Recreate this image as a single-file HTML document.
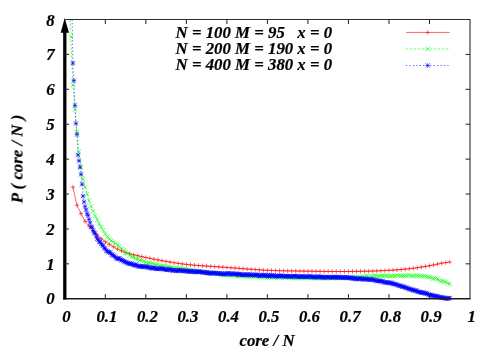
<!DOCTYPE html>
<html><head><meta charset="utf-8"><title>P(core/N)</title>
<style>html,body{margin:0;padding:0;background:#fff}svg{display:block}</style>
</head><body>
<svg width="498" height="349" viewBox="0 0 498 349">
<rect width="498" height="349" fill="#fff"/>
<g fill="none" stroke-linecap="butt">
<path d="M72.9 187.05 L76.96 205.2 L81.01 213.58 L85.06 221.26 L89.11 226.41 L93.16 230.95 L97.22 235.13 L101.27 238.71 L105.32 241.73 L109.37 244.37 L113.42 246.77 L117.48 249.01 L121.53 250.95 L125.58 252.52 L129.63 253.76 L133.68 254.8 L137.74 255.73 L141.79 256.62 L145.84 257.49 L149.89 258.35 L153.94 259.16 L158 259.94 L162.05 260.68 L166.1 261.39 L170.15 262.08 L174.2 262.74 L178.26 263.36 L182.31 263.92 L186.36 264.4 L190.41 264.82 L194.46 265.18 L198.52 265.51 L202.57 265.81 L206.62 266.09 L210.67 266.36 L214.72 266.63 L218.78 266.9 L222.83 267.18 L226.88 267.47 L230.93 267.76 L234.98 268.07 L239.04 268.37 L243.09 268.67 L247.14 268.97 L251.19 269.26 L255.24 269.54 L259.3 269.81 L263.35 270.1 L267.4 270.34 L271.45 270.48 L275.5 270.59 L279.56 270.7 L283.61 270.79 L287.66 270.87 L291.71 270.94 L295.76 271 L299.82 271.06 L303.87 271.12 L307.92 271.17 L311.97 271.23 L316.02 271.3 L320.08 271.36 L324.13 271.41 L328.18 271.46 L332.23 271.49 L336.28 271.52 L340.34 271.52 L344.39 271.51 L348.44 271.48 L352.49 271.44 L356.54 271.39 L360.6 271.33 L364.65 271.26 L368.7 271.19 L372.75 271.07 L376.8 270.92 L380.86 270.75 L384.91 270.56 L388.96 270.35 L393.01 270.13 L397.06 269.85 L401.12 269.52 L405.17 269.15 L409.22 268.72 L413.27 268.23 L417.32 267.69 L421.38 267.1 L425.43 266.43 L429.48 265.71 L433.53 264.93 L437.58 264.05 L441.64 263.21 L445.69 262.57 L449.74 262.1" stroke="#f00" stroke-width="0.6"/>
<path d="M70.7 187.05h4.4M72.9 184.85v4.4M74.76 205.2h4.4M76.96 203v4.4M78.81 213.58h4.4M81.01 211.38v4.4M82.86 221.26h4.4M85.06 219.06v4.4M86.91 226.41h4.4M89.11 224.21v4.4M90.96 230.95h4.4M93.16 228.75v4.4M95.02 235.13h4.4M97.22 232.93v4.4M99.07 238.71h4.4M101.27 236.51v4.4M103.12 241.73h4.4M105.32 239.53v4.4M107.17 244.37h4.4M109.37 242.17v4.4M111.22 246.77h4.4M113.42 244.57v4.4M115.28 249.01h4.4M117.48 246.81v4.4M119.33 250.95h4.4M121.53 248.75v4.4M123.38 252.52h4.4M125.58 250.32v4.4M127.43 253.76h4.4M129.63 251.56v4.4M131.48 254.8h4.4M133.68 252.6v4.4M135.54 255.73h4.4M137.74 253.53v4.4M139.59 256.62h4.4M141.79 254.42v4.4M143.64 257.49h4.4M145.84 255.29v4.4M147.69 258.35h4.4M149.89 256.15v4.4M151.74 259.16h4.4M153.94 256.96v4.4M155.8 259.94h4.4M158 257.74v4.4M159.85 260.68h4.4M162.05 258.48v4.4M163.9 261.39h4.4M166.1 259.19v4.4M167.95 262.08h4.4M170.15 259.88v4.4M172 262.74h4.4M174.2 260.54v4.4M176.06 263.36h4.4M178.26 261.16v4.4M180.11 263.92h4.4M182.31 261.72v4.4M184.16 264.4h4.4M186.36 262.2v4.4M188.21 264.82h4.4M190.41 262.62v4.4M192.26 265.18h4.4M194.46 262.98v4.4M196.32 265.51h4.4M198.52 263.31v4.4M200.37 265.81h4.4M202.57 263.61v4.4M204.42 266.09h4.4M206.62 263.89v4.4M208.47 266.36h4.4M210.67 264.16v4.4M212.52 266.63h4.4M214.72 264.43v4.4M216.58 266.9h4.4M218.78 264.7v4.4M220.63 267.18h4.4M222.83 264.98v4.4M224.68 267.47h4.4M226.88 265.27v4.4M228.73 267.76h4.4M230.93 265.56v4.4M232.78 268.07h4.4M234.98 265.87v4.4M236.84 268.37h4.4M239.04 266.17v4.4M240.89 268.67h4.4M243.09 266.47v4.4M244.94 268.97h4.4M247.14 266.77v4.4M248.99 269.26h4.4M251.19 267.06v4.4M253.04 269.54h4.4M255.24 267.34v4.4M257.1 269.81h4.4M259.3 267.61v4.4M261.15 270.1h4.4M263.35 267.9v4.4M265.2 270.34h4.4M267.4 268.14v4.4M269.25 270.48h4.4M271.45 268.28v4.4M273.3 270.59h4.4M275.5 268.39v4.4M277.36 270.7h4.4M279.56 268.5v4.4M281.41 270.79h4.4M283.61 268.59v4.4M285.46 270.87h4.4M287.66 268.67v4.4M289.51 270.94h4.4M291.71 268.74v4.4M293.56 271h4.4M295.76 268.8v4.4M297.62 271.06h4.4M299.82 268.86v4.4M301.67 271.12h4.4M303.87 268.92v4.4M305.72 271.17h4.4M307.92 268.97v4.4M309.77 271.23h4.4M311.97 269.03v4.4M313.82 271.3h4.4M316.02 269.1v4.4M317.88 271.36h4.4M320.08 269.16v4.4M321.93 271.41h4.4M324.13 269.21v4.4M325.98 271.46h4.4M328.18 269.26v4.4M330.03 271.49h4.4M332.23 269.29v4.4M334.08 271.52h4.4M336.28 269.32v4.4M338.14 271.52h4.4M340.34 269.32v4.4M342.19 271.51h4.4M344.39 269.31v4.4M346.24 271.48h4.4M348.44 269.28v4.4M350.29 271.44h4.4M352.49 269.24v4.4M354.34 271.39h4.4M356.54 269.19v4.4M358.4 271.33h4.4M360.6 269.13v4.4M362.45 271.26h4.4M364.65 269.06v4.4M366.5 271.19h4.4M368.7 268.99v4.4M370.55 271.07h4.4M372.75 268.87v4.4M374.6 270.92h4.4M376.8 268.72v4.4M378.66 270.75h4.4M380.86 268.55v4.4M382.71 270.56h4.4M384.91 268.36v4.4M386.76 270.35h4.4M388.96 268.15v4.4M390.81 270.13h4.4M393.01 267.93v4.4M394.86 269.85h4.4M397.06 267.65v4.4M398.92 269.52h4.4M401.12 267.32v4.4M402.97 269.15h4.4M405.17 266.95v4.4M407.02 268.72h4.4M409.22 266.52v4.4M411.07 268.23h4.4M413.27 266.03v4.4M415.12 267.69h4.4M417.32 265.49v4.4M419.18 267.1h4.4M421.38 264.9v4.4M423.23 266.43h4.4M425.43 264.23v4.4M427.28 265.71h4.4M429.48 263.51v4.4M431.33 264.93h4.4M433.53 262.73v4.4M435.38 264.05h4.4M437.58 261.85v4.4M439.44 263.21h4.4M441.64 261.01v4.4M443.49 262.57h4.4M445.69 260.37v4.4M447.54 262.1h4.4M449.74 259.9v4.4" stroke="#f00" stroke-width="0.6"/>
<path d="M70.3 19.5 L70.88 36.94 L72.9 85.18 L74.93 109.23 L76.96 132.07 L78.98 151.69 L81.01 167.32 L83.03 179.11 L85.06 187.17 L87.09 193.85 L89.11 200.78 L91.14 206.35 L93.16 211.32 L95.19 215.95 L97.22 219.78 L99.24 223.59 L101.27 227.01 L103.29 230.37 L105.32 234.06 L107.35 236.62 L109.37 239.34 L111.4 240.52 L113.42 242.19 L115.45 243.52 L117.48 244.88 L119.5 246.74 L121.53 248.79 L123.55 250.24 L125.58 252.48 L127.61 253.59 L129.63 255.17 L131.66 256.88 L133.68 257.13 L135.71 258.64 L137.74 259.09 L139.76 260.16 L141.79 260.48 L143.81 261.04 L145.84 262.25 L147.87 263.01 L149.89 263.14 L151.92 263.34 L153.94 264.11 L155.97 264.55 L158 264.58 L160.02 265.84 L162.05 265.64 L164.07 266.23 L166.1 266.16 L168.13 266.83 L170.15 267.29 L172.18 267.4 L174.2 268.02 L176.23 267.91 L178.26 268.38 L180.28 268.58 L182.31 268.96 L184.33 268.8 L186.36 269.38 L188.39 269.51 L190.41 269.85 L192.44 270.57 L194.46 270.58 L196.49 271.05 L198.52 271.45 L200.54 272.01 L202.57 272.34 L204.59 272.28 L206.62 272.14 L208.65 273.22 L210.67 273.06 L212.7 273.55 L214.72 273.46 L216.75 273.79 L218.78 273.86 L220.8 275.17 L222.83 274.78 L224.85 275.1 L226.88 275.05 L228.91 275.4 L230.93 275.53 L232.96 275.31 L234.98 275.12 L237.01 276.57 L239.04 276 L241.06 275.95 L243.09 276.16 L245.11 276.37 L247.14 276.76 L249.17 276.75 L251.19 276.38 L253.22 276.38 L255.24 276.74 L257.27 277.09 L259.3 276.91 L261.32 277.08 L263.35 276.93 L265.37 277.13 L267.4 277.4 L269.43 277.24 L271.45 277.69 L273.48 277.19 L275.5 277.14 L277.53 277.86 L279.56 277.46 L281.58 277.91 L283.61 277.38 L285.63 277.47 L287.66 277.83 L289.69 277.53 L291.71 277.98 L293.74 278.08 L295.76 278.1 L297.79 278.02 L299.82 278.11 L301.84 278 L303.87 278.24 L305.89 277.87 L307.92 277.8 L309.95 278.22 L311.97 278.48 L314 277.87 L316.02 277.75 L318.05 278.1 L320.08 278.4 L322.1 277.95 L324.13 277.59 L326.15 278.52 L328.18 277.85 L330.21 278.04 L332.23 278.15 L334.26 277.71 L336.28 278.15 L338.31 277.63 L340.34 277.26 L342.36 277.49 L344.39 277.7 L346.41 277.86 L348.44 277.64 L350.47 277.71 L352.49 276.64 L354.52 277.05 L356.54 277.15 L358.57 277.11 L360.6 276.94 L362.62 276.63 L364.65 276.81 L366.67 275.92 L368.7 276.53 L370.73 276.48 L372.75 276.12 L374.78 275.75 L376.8 275.74 L378.83 276.2 L380.86 275.95 L382.88 275.94 L384.91 275.79 L386.93 275.83 L388.96 276.13 L390.99 276.18 L393.01 275.75 L395.04 276.09 L397.06 275.34 L399.09 275.68 L401.12 275.94 L403.14 275.71 L405.17 275.73 L407.19 275.6 L409.22 275.29 L411.25 275.94 L413.27 276.06 L415.3 275.5 L417.32 275.75 L419.35 275.82 L421.38 275.95 L423.4 276.35 L425.43 276.31 L427.45 277.07 L429.48 277.18 L431.51 277.9 L433.53 278.5 L435.56 278.56 L437.58 279.16 L439.61 280.53 L441.64 281.04 L443.66 281.41 L445.69 281.97 L447.71 283.26 L449.74 283.97" stroke="#0f0" stroke-width="1.1" stroke-opacity="0.55" stroke-dasharray="2.6 1.4"/>
<path d="M68.68 34.74l4.4 4.4M68.68 39.14l4.4 -4.4M70.7 82.98l4.4 4.4M70.7 87.38l4.4 -4.4M72.73 107.03l4.4 4.4M72.73 111.43l4.4 -4.4M74.76 129.87l4.4 4.4M74.76 134.27l4.4 -4.4M76.78 149.49l4.4 4.4M76.78 153.89l4.4 -4.4M78.81 165.12l4.4 4.4M78.81 169.52l4.4 -4.4M80.83 176.91l4.4 4.4M80.83 181.31l4.4 -4.4M82.86 184.97l4.4 4.4M82.86 189.37l4.4 -4.4M84.89 191.65l4.4 4.4M84.89 196.05l4.4 -4.4M86.91 198.58l4.4 4.4M86.91 202.98l4.4 -4.4M88.94 204.15l4.4 4.4M88.94 208.55l4.4 -4.4M90.96 209.12l4.4 4.4M90.96 213.52l4.4 -4.4M92.99 213.75l4.4 4.4M92.99 218.15l4.4 -4.4M95.02 217.58l4.4 4.4M95.02 221.98l4.4 -4.4M97.04 221.39l4.4 4.4M97.04 225.79l4.4 -4.4M99.07 224.81l4.4 4.4M99.07 229.21l4.4 -4.4M101.09 228.17l4.4 4.4M101.09 232.57l4.4 -4.4M103.12 231.86l4.4 4.4M103.12 236.26l4.4 -4.4M105.15 234.42l4.4 4.4M105.15 238.82l4.4 -4.4M107.17 237.14l4.4 4.4M107.17 241.54l4.4 -4.4M109.2 238.32l4.4 4.4M109.2 242.72l4.4 -4.4M111.22 239.99l4.4 4.4M111.22 244.39l4.4 -4.4M113.25 241.32l4.4 4.4M113.25 245.72l4.4 -4.4M115.28 242.68l4.4 4.4M115.28 247.08l4.4 -4.4M117.3 244.54l4.4 4.4M117.3 248.94l4.4 -4.4M119.33 246.59l4.4 4.4M119.33 250.99l4.4 -4.4M121.35 248.04l4.4 4.4M121.35 252.44l4.4 -4.4M123.38 250.28l4.4 4.4M123.38 254.68l4.4 -4.4M125.41 251.39l4.4 4.4M125.41 255.79l4.4 -4.4M127.43 252.97l4.4 4.4M127.43 257.37l4.4 -4.4M129.46 254.68l4.4 4.4M129.46 259.08l4.4 -4.4M131.48 254.93l4.4 4.4M131.48 259.33l4.4 -4.4M133.51 256.44l4.4 4.4M133.51 260.84l4.4 -4.4M135.54 256.89l4.4 4.4M135.54 261.29l4.4 -4.4M137.56 257.96l4.4 4.4M137.56 262.36l4.4 -4.4M139.59 258.28l4.4 4.4M139.59 262.68l4.4 -4.4M141.61 258.84l4.4 4.4M141.61 263.24l4.4 -4.4M143.64 260.05l4.4 4.4M143.64 264.45l4.4 -4.4M145.67 260.81l4.4 4.4M145.67 265.21l4.4 -4.4M147.69 260.94l4.4 4.4M147.69 265.34l4.4 -4.4M149.72 261.14l4.4 4.4M149.72 265.54l4.4 -4.4M151.74 261.91l4.4 4.4M151.74 266.31l4.4 -4.4M153.77 262.35l4.4 4.4M153.77 266.75l4.4 -4.4M155.8 262.38l4.4 4.4M155.8 266.78l4.4 -4.4M157.82 263.64l4.4 4.4M157.82 268.04l4.4 -4.4M159.85 263.44l4.4 4.4M159.85 267.84l4.4 -4.4M161.87 264.03l4.4 4.4M161.87 268.43l4.4 -4.4M163.9 263.96l4.4 4.4M163.9 268.36l4.4 -4.4M165.93 264.63l4.4 4.4M165.93 269.03l4.4 -4.4M167.95 265.09l4.4 4.4M167.95 269.49l4.4 -4.4M169.98 265.2l4.4 4.4M169.98 269.6l4.4 -4.4M172 265.82l4.4 4.4M172 270.22l4.4 -4.4M174.03 265.71l4.4 4.4M174.03 270.11l4.4 -4.4M176.06 266.18l4.4 4.4M176.06 270.58l4.4 -4.4M178.08 266.38l4.4 4.4M178.08 270.78l4.4 -4.4M180.11 266.76l4.4 4.4M180.11 271.16l4.4 -4.4M182.13 266.6l4.4 4.4M182.13 271l4.4 -4.4M184.16 267.18l4.4 4.4M184.16 271.58l4.4 -4.4M186.19 267.31l4.4 4.4M186.19 271.71l4.4 -4.4M188.21 267.65l4.4 4.4M188.21 272.05l4.4 -4.4M190.24 268.37l4.4 4.4M190.24 272.77l4.4 -4.4M192.26 268.38l4.4 4.4M192.26 272.78l4.4 -4.4M194.29 268.85l4.4 4.4M194.29 273.25l4.4 -4.4M196.32 269.25l4.4 4.4M196.32 273.65l4.4 -4.4M198.34 269.81l4.4 4.4M198.34 274.21l4.4 -4.4M200.37 270.14l4.4 4.4M200.37 274.54l4.4 -4.4M202.39 270.08l4.4 4.4M202.39 274.48l4.4 -4.4M204.42 269.94l4.4 4.4M204.42 274.34l4.4 -4.4M206.45 271.02l4.4 4.4M206.45 275.42l4.4 -4.4M208.47 270.86l4.4 4.4M208.47 275.26l4.4 -4.4M210.5 271.35l4.4 4.4M210.5 275.75l4.4 -4.4M212.52 271.26l4.4 4.4M212.52 275.66l4.4 -4.4M214.55 271.59l4.4 4.4M214.55 275.99l4.4 -4.4M216.58 271.66l4.4 4.4M216.58 276.06l4.4 -4.4M218.6 272.97l4.4 4.4M218.6 277.37l4.4 -4.4M220.63 272.58l4.4 4.4M220.63 276.98l4.4 -4.4M222.65 272.9l4.4 4.4M222.65 277.3l4.4 -4.4M224.68 272.85l4.4 4.4M224.68 277.25l4.4 -4.4M226.71 273.2l4.4 4.4M226.71 277.6l4.4 -4.4M228.73 273.33l4.4 4.4M228.73 277.73l4.4 -4.4M230.76 273.11l4.4 4.4M230.76 277.51l4.4 -4.4M232.78 272.92l4.4 4.4M232.78 277.32l4.4 -4.4M234.81 274.37l4.4 4.4M234.81 278.77l4.4 -4.4M236.84 273.8l4.4 4.4M236.84 278.2l4.4 -4.4M238.86 273.75l4.4 4.4M238.86 278.15l4.4 -4.4M240.89 273.96l4.4 4.4M240.89 278.36l4.4 -4.4M242.91 274.17l4.4 4.4M242.91 278.57l4.4 -4.4M244.94 274.56l4.4 4.4M244.94 278.96l4.4 -4.4M246.97 274.55l4.4 4.4M246.97 278.95l4.4 -4.4M248.99 274.18l4.4 4.4M248.99 278.58l4.4 -4.4M251.02 274.18l4.4 4.4M251.02 278.58l4.4 -4.4M253.04 274.54l4.4 4.4M253.04 278.94l4.4 -4.4M255.07 274.89l4.4 4.4M255.07 279.29l4.4 -4.4M257.1 274.71l4.4 4.4M257.1 279.11l4.4 -4.4M259.12 274.88l4.4 4.4M259.12 279.28l4.4 -4.4M261.15 274.73l4.4 4.4M261.15 279.13l4.4 -4.4M263.17 274.93l4.4 4.4M263.17 279.33l4.4 -4.4M265.2 275.2l4.4 4.4M265.2 279.6l4.4 -4.4M267.23 275.04l4.4 4.4M267.23 279.44l4.4 -4.4M269.25 275.49l4.4 4.4M269.25 279.89l4.4 -4.4M271.28 274.99l4.4 4.4M271.28 279.39l4.4 -4.4M273.3 274.94l4.4 4.4M273.3 279.34l4.4 -4.4M275.33 275.66l4.4 4.4M275.33 280.06l4.4 -4.4M277.36 275.26l4.4 4.4M277.36 279.66l4.4 -4.4M279.38 275.71l4.4 4.4M279.38 280.11l4.4 -4.4M281.41 275.18l4.4 4.4M281.41 279.58l4.4 -4.4M283.43 275.27l4.4 4.4M283.43 279.67l4.4 -4.4M285.46 275.63l4.4 4.4M285.46 280.03l4.4 -4.4M287.49 275.33l4.4 4.4M287.49 279.73l4.4 -4.4M289.51 275.78l4.4 4.4M289.51 280.18l4.4 -4.4M291.54 275.88l4.4 4.4M291.54 280.28l4.4 -4.4M293.56 275.9l4.4 4.4M293.56 280.3l4.4 -4.4M295.59 275.82l4.4 4.4M295.59 280.22l4.4 -4.4M297.62 275.91l4.4 4.4M297.62 280.31l4.4 -4.4M299.64 275.8l4.4 4.4M299.64 280.2l4.4 -4.4M301.67 276.04l4.4 4.4M301.67 280.44l4.4 -4.4M303.69 275.67l4.4 4.4M303.69 280.07l4.4 -4.4M305.72 275.6l4.4 4.4M305.72 280l4.4 -4.4M307.75 276.02l4.4 4.4M307.75 280.42l4.4 -4.4M309.77 276.28l4.4 4.4M309.77 280.68l4.4 -4.4M311.8 275.67l4.4 4.4M311.8 280.07l4.4 -4.4M313.82 275.55l4.4 4.4M313.82 279.95l4.4 -4.4M315.85 275.9l4.4 4.4M315.85 280.3l4.4 -4.4M317.88 276.2l4.4 4.4M317.88 280.6l4.4 -4.4M319.9 275.75l4.4 4.4M319.9 280.15l4.4 -4.4M321.93 275.39l4.4 4.4M321.93 279.79l4.4 -4.4M323.95 276.32l4.4 4.4M323.95 280.72l4.4 -4.4M325.98 275.65l4.4 4.4M325.98 280.05l4.4 -4.4M328.01 275.84l4.4 4.4M328.01 280.24l4.4 -4.4M330.03 275.95l4.4 4.4M330.03 280.35l4.4 -4.4M332.06 275.51l4.4 4.4M332.06 279.91l4.4 -4.4M334.08 275.95l4.4 4.4M334.08 280.35l4.4 -4.4M336.11 275.43l4.4 4.4M336.11 279.83l4.4 -4.4M338.14 275.06l4.4 4.4M338.14 279.46l4.4 -4.4M340.16 275.29l4.4 4.4M340.16 279.69l4.4 -4.4M342.19 275.5l4.4 4.4M342.19 279.9l4.4 -4.4M344.21 275.66l4.4 4.4M344.21 280.06l4.4 -4.4M346.24 275.44l4.4 4.4M346.24 279.84l4.4 -4.4M348.27 275.51l4.4 4.4M348.27 279.91l4.4 -4.4M350.29 274.44l4.4 4.4M350.29 278.84l4.4 -4.4M352.32 274.85l4.4 4.4M352.32 279.25l4.4 -4.4M354.34 274.95l4.4 4.4M354.34 279.35l4.4 -4.4M356.37 274.91l4.4 4.4M356.37 279.31l4.4 -4.4M358.4 274.74l4.4 4.4M358.4 279.14l4.4 -4.4M360.42 274.43l4.4 4.4M360.42 278.83l4.4 -4.4M362.45 274.61l4.4 4.4M362.45 279.01l4.4 -4.4M364.47 273.72l4.4 4.4M364.47 278.12l4.4 -4.4M366.5 274.33l4.4 4.4M366.5 278.73l4.4 -4.4M368.53 274.28l4.4 4.4M368.53 278.68l4.4 -4.4M370.55 273.92l4.4 4.4M370.55 278.32l4.4 -4.4M372.58 273.55l4.4 4.4M372.58 277.95l4.4 -4.4M374.6 273.54l4.4 4.4M374.6 277.94l4.4 -4.4M376.63 274l4.4 4.4M376.63 278.4l4.4 -4.4M378.66 273.75l4.4 4.4M378.66 278.15l4.4 -4.4M380.68 273.74l4.4 4.4M380.68 278.14l4.4 -4.4M382.71 273.59l4.4 4.4M382.71 277.99l4.4 -4.4M384.73 273.63l4.4 4.4M384.73 278.03l4.4 -4.4M386.76 273.93l4.4 4.4M386.76 278.33l4.4 -4.4M388.79 273.98l4.4 4.4M388.79 278.38l4.4 -4.4M390.81 273.55l4.4 4.4M390.81 277.95l4.4 -4.4M392.84 273.89l4.4 4.4M392.84 278.29l4.4 -4.4M394.86 273.14l4.4 4.4M394.86 277.54l4.4 -4.4M396.89 273.48l4.4 4.4M396.89 277.88l4.4 -4.4M398.92 273.74l4.4 4.4M398.92 278.14l4.4 -4.4M400.94 273.51l4.4 4.4M400.94 277.91l4.4 -4.4M402.97 273.53l4.4 4.4M402.97 277.93l4.4 -4.4M404.99 273.4l4.4 4.4M404.99 277.8l4.4 -4.4M407.02 273.09l4.4 4.4M407.02 277.49l4.4 -4.4M409.05 273.74l4.4 4.4M409.05 278.14l4.4 -4.4M411.07 273.86l4.4 4.4M411.07 278.26l4.4 -4.4M413.1 273.3l4.4 4.4M413.1 277.7l4.4 -4.4M415.12 273.55l4.4 4.4M415.12 277.95l4.4 -4.4M417.15 273.62l4.4 4.4M417.15 278.02l4.4 -4.4M419.18 273.75l4.4 4.4M419.18 278.15l4.4 -4.4M421.2 274.15l4.4 4.4M421.2 278.55l4.4 -4.4M423.23 274.11l4.4 4.4M423.23 278.51l4.4 -4.4M425.25 274.87l4.4 4.4M425.25 279.27l4.4 -4.4M427.28 274.98l4.4 4.4M427.28 279.38l4.4 -4.4M429.31 275.7l4.4 4.4M429.31 280.1l4.4 -4.4M431.33 276.3l4.4 4.4M431.33 280.7l4.4 -4.4M433.36 276.36l4.4 4.4M433.36 280.76l4.4 -4.4M435.38 276.96l4.4 4.4M435.38 281.36l4.4 -4.4M437.41 278.33l4.4 4.4M437.41 282.73l4.4 -4.4M439.44 278.84l4.4 4.4M439.44 283.24l4.4 -4.4M441.46 279.21l4.4 4.4M441.46 283.61l4.4 -4.4M443.49 279.77l4.4 4.4M443.49 284.17l4.4 -4.4M445.51 281.06l4.4 4.4M445.51 285.46l4.4 -4.4M447.54 281.77l4.4 4.4M447.54 286.17l4.4 -4.4" stroke="#0f0" stroke-width="0.6"/>
<path d="M72.21 19.5 L72.9 63.12 L73.92 80.56 L74.93 105.42 L75.94 123.39 L76.96 134.34 L77.97 154.94 L78.98 160.75 L79.99 167.11 L81.01 174.3 L82.02 184.24 L83.03 196.09 L84.05 201.89 L85.06 206.57 L86.07 209.82 L87.09 213.66 L88.1 215.67 L89.11 219.52 L90.12 222.81 L91.14 226.77 L92.15 227.35 L93.16 230.49 L94.18 232.86 L95.19 233.38 L96.2 236.33 L97.22 238.76 L98.23 239.65 L99.24 242.08 L100.25 241.69 L101.27 243.85 L102.28 245.36 L103.29 245.72 L104.31 248.35 L105.32 248.42 L106.33 250.82 L107.35 251.16 L108.36 252.37 L109.37 251.96 L110.38 252.65 L111.4 254.42 L112.41 254.6 L113.42 255.77 L114.44 256.09 L115.45 257.32 L116.46 258.35 L117.48 258.96 L118.49 258.53 L119.5 258.23 L120.52 259.63 L121.53 260.48 L122.54 259.9 L123.55 261.1 L124.57 261.61 L125.58 261.97 L126.59 262.54 L127.61 262.99 L128.62 263.82 L129.63 263.33 L130.64 263.89 L131.66 263.64 L132.67 264.57 L133.68 265.47 L134.7 264.97 L135.71 264.48 L136.72 265.56 L137.74 265.99 L138.75 266.32 L139.76 266.47 L140.77 266.36 L141.79 266.9 L142.8 266.01 L143.81 266.9 L144.83 266.91 L145.84 266.54 L146.85 266.67 L147.87 267.5 L148.88 267.43 L149.89 267.41 L150.9 267.91 L151.92 268.66 L152.93 267.83 L153.94 267.86 L154.96 268.17 L155.97 268.81 L156.98 268.64 L158 268.91 L159.01 268.91 L160.02 268.4 L161.03 268.43 L162.05 268.87 L163.06 269.03 L164.07 269.08 L165.09 269.46 L166.1 269.58 L167.11 269.91 L168.13 269.78 L169.14 268.99 L170.15 269.62 L171.16 270.17 L172.18 270.31 L173.19 270.54 L174.2 270.16 L175.22 270.23 L176.23 271 L177.24 270.35 L178.26 270.82 L179.27 270.14 L180.28 270.69 L181.29 270.17 L182.31 271.05 L183.32 271.05 L184.33 270.9 L185.35 270.68 L186.36 270.93 L187.37 271.67 L188.39 271.21 L189.4 271.33 L190.41 271.57 L191.43 271.72 L192.44 270.9 L193.45 271.76 L194.46 272 L195.48 271.52 L196.49 271.77 L197.5 271.92 L198.52 271.67 L199.53 271.84 L200.54 271.96 L201.56 271.8 L202.57 272.12 L203.58 272.51 L204.59 272.49 L205.61 272.61 L206.62 272.41 L207.63 272.94 L208.65 273.28 L209.66 272.65 L210.67 273.23 L211.69 273.51 L212.7 272.74 L213.71 273.19 L214.72 272.82 L215.74 273.26 L216.75 273.53 L217.76 273.64 L218.78 273.44 L219.79 273.42 L220.8 273.68 L221.81 273.54 L222.83 274.05 L223.84 273.56 L224.85 274.26 L225.87 273.74 L226.88 273.48 L227.89 273.4 L228.91 273.23 L229.92 274.44 L230.93 273.68 L231.94 273.57 L232.96 273.7 L233.97 274.43 L234.98 274.01 L236 273.55 L237.01 274.78 L238.02 274.13 L239.04 273.96 L240.05 274.64 L241.06 274.24 L242.07 274.87 L243.09 274.83 L244.1 274.87 L245.11 274.57 L246.13 274.71 L247.14 274.39 L248.15 275.1 L249.17 274.86 L250.18 274.53 L251.19 274.71 L252.2 275.4 L253.22 274.76 L254.23 275.2 L255.24 274.94 L256.26 275.01 L257.27 274.73 L258.28 275.15 L259.3 275.87 L260.31 275.74 L261.32 275.06 L262.33 275.44 L263.35 275 L264.36 275.33 L265.37 275.72 L266.39 275.13 L267.4 275.81 L268.41 276.27 L269.43 274.9 L270.44 276.3 L271.45 275.46 L272.46 275.39 L273.48 275.7 L274.49 276.35 L275.5 275.47 L276.52 276.34 L277.53 276.34 L278.54 276.04 L279.56 275.68 L280.57 275.88 L281.58 275.74 L282.59 276.19 L283.61 276.13 L284.62 276.49 L285.63 276.24 L286.65 275.96 L287.66 276.29 L288.67 276.06 L289.69 276.45 L290.7 276.48 L291.71 276.3 L292.72 276.4 L293.74 276.17 L294.75 276.34 L295.76 275.84 L296.78 276.53 L297.79 276.56 L298.8 276.85 L299.82 276.53 L300.83 276.33 L301.84 276.84 L302.86 276.63 L303.87 276.4 L304.88 276.71 L305.89 276.87 L306.91 276.39 L307.92 276.71 L308.93 276.64 L309.95 276.41 L310.96 276.44 L311.97 276.96 L312.99 277.04 L314 276.8 L315.01 276.96 L316.02 277.57 L317.04 276.54 L318.05 276.98 L319.06 276.77 L320.08 277.43 L321.09 276.64 L322.1 277.28 L323.12 277.14 L324.13 277.58 L325.14 277.2 L326.15 277.23 L327.17 277.24 L328.18 277.05 L329.19 277.19 L330.21 276.91 L331.22 277.4 L332.23 277.6 L333.25 277.3 L334.26 277.1 L335.27 276.92 L336.28 277.09 L337.3 277.96 L338.31 277.29 L339.32 276.96 L340.34 277.45 L341.35 277.67 L342.36 277.44 L343.38 277.75 L344.39 277.42 L345.4 277.68 L346.41 277.28 L347.43 277.62 L348.44 278.08 L349.45 277.71 L350.47 277.66 L351.48 278.22 L352.49 278.24 L353.5 278.91 L354.52 277.95 L355.53 278.51 L356.54 279.08 L357.56 279.04 L358.57 278.63 L359.58 278.4 L360.6 278.76 L361.61 278.67 L362.62 279.25 L363.64 279.42 L364.65 278.81 L365.66 279.03 L366.67 279.29 L367.69 278.98 L368.7 279.79 L369.71 279.74 L370.73 279.41 L371.74 279.29 L372.75 279.99 L373.76 279.62 L374.78 280.46 L375.79 280.33 L376.8 280.64 L377.82 281.22 L378.83 280.83 L379.84 280.8 L380.86 281.3 L381.87 281.45 L382.88 281.2 L383.89 282.17 L384.91 282.43 L385.92 282.38 L386.93 282.73 L387.95 282.21 L388.96 282.71 L389.97 283.25 L390.99 283.39 L392 282.64 L393.01 283.84 L394.02 284.14 L395.04 284.13 L396.05 284.33 L397.06 284.76 L398.08 285.37 L399.09 285.76 L400.1 285.64 L401.12 286.14 L402.13 286.87 L403.14 286.5 L404.16 286.92 L405.17 287.48 L406.18 287.8 L407.19 288.01 L408.21 288.54 L409.22 289.01 L410.23 288.96 L411.25 289.67 L412.26 289.6 L413.27 290.31 L414.29 290.34 L415.3 290.67 L416.31 290.57 L417.32 291.47 L418.34 291.84 L419.35 291.98 L420.36 292.37 L421.38 292.55 L422.39 292.62 L423.4 292.83 L424.41 292.93 L425.43 293.7 L426.44 293.27 L427.45 293.68 L428.47 294.4 L429.48 295.09 L430.49 294.88 L431.51 295.1 L432.52 295.85 L433.53 295.61 L434.55 295.92 L435.56 296.3 L436.57 296.25 L437.58 296.41 L438.6 296.96 L439.61 297.03 L440.62 297.43 L441.64 297.65 L442.65 297.65 L443.66 297.71 L444.68 298.08 L445.69 298.55 L446.7 298.08 L447.71 298.64 L448.73 298.37 L449.74 298.1" stroke="#00f" stroke-width="0.8" stroke-opacity="0.75" stroke-dasharray="1.3 2.15"/>
<path d="M70.7 63.12h4.4M72.9 60.92v4.4M70.7 60.92l4.4 4.4M70.7 65.32l4.4 -4.4M71.72 80.56h4.4M73.92 78.36v4.4M71.72 78.36l4.4 4.4M71.72 82.76l4.4 -4.4M72.73 105.42h4.4M74.93 103.22v4.4M72.73 103.22l4.4 4.4M72.73 107.62l4.4 -4.4M73.74 123.39h4.4M75.94 121.19v4.4M73.74 121.19l4.4 4.4M73.74 125.59l4.4 -4.4M74.76 134.34h4.4M76.96 132.14v4.4M74.76 132.14l4.4 4.4M74.76 136.54l4.4 -4.4M75.77 154.94h4.4M77.97 152.74v4.4M75.77 152.74l4.4 4.4M75.77 157.14l4.4 -4.4M76.78 160.75h4.4M78.98 158.55v4.4M76.78 158.55l4.4 4.4M76.78 162.95l4.4 -4.4M77.79 167.11h4.4M79.99 164.91v4.4M77.79 164.91l4.4 4.4M77.79 169.31l4.4 -4.4M78.81 174.3h4.4M81.01 172.1v4.4M78.81 172.1l4.4 4.4M78.81 176.5l4.4 -4.4M79.82 184.24h4.4M82.02 182.04v4.4M79.82 182.04l4.4 4.4M79.82 186.44l4.4 -4.4M80.83 196.09h4.4M83.03 193.89v4.4M80.83 193.89l4.4 4.4M80.83 198.29l4.4 -4.4M81.85 201.89h4.4M84.05 199.69v4.4M81.85 199.69l4.4 4.4M81.85 204.09l4.4 -4.4M82.86 206.57h4.4M85.06 204.37v4.4M82.86 204.37l4.4 4.4M82.86 208.77l4.4 -4.4M83.87 209.82h4.4M86.07 207.62v4.4M83.87 207.62l4.4 4.4M83.87 212.02l4.4 -4.4M84.89 213.66h4.4M87.09 211.46v4.4M84.89 211.46l4.4 4.4M84.89 215.86l4.4 -4.4M85.9 215.67h4.4M88.1 213.47v4.4M85.9 213.47l4.4 4.4M85.9 217.87l4.4 -4.4M86.91 219.52h4.4M89.11 217.32v4.4M86.91 217.32l4.4 4.4M86.91 221.72l4.4 -4.4M87.92 222.81h4.4M90.12 220.61v4.4M87.92 220.61l4.4 4.4M87.92 225.01l4.4 -4.4M88.94 226.77h4.4M91.14 224.57v4.4M88.94 224.57l4.4 4.4M88.94 228.97l4.4 -4.4M89.95 227.35h4.4M92.15 225.15v4.4M89.95 225.15l4.4 4.4M89.95 229.55l4.4 -4.4M90.96 230.49h4.4M93.16 228.29v4.4M90.96 228.29l4.4 4.4M90.96 232.69l4.4 -4.4M91.98 232.86h4.4M94.18 230.66v4.4M91.98 230.66l4.4 4.4M91.98 235.06l4.4 -4.4M92.99 233.38h4.4M95.19 231.18v4.4M92.99 231.18l4.4 4.4M92.99 235.58l4.4 -4.4M94 236.33h4.4M96.2 234.13v4.4M94 234.13l4.4 4.4M94 238.53l4.4 -4.4M95.02 238.76h4.4M97.22 236.56v4.4M95.02 236.56l4.4 4.4M95.02 240.96l4.4 -4.4M96.03 239.65h4.4M98.23 237.45v4.4M96.03 237.45l4.4 4.4M96.03 241.85l4.4 -4.4M97.04 242.08h4.4M99.24 239.88v4.4M97.04 239.88l4.4 4.4M97.04 244.28l4.4 -4.4M98.05 241.69h4.4M100.25 239.49v4.4M98.05 239.49l4.4 4.4M98.05 243.89l4.4 -4.4M99.07 243.85h4.4M101.27 241.65v4.4M99.07 241.65l4.4 4.4M99.07 246.05l4.4 -4.4M100.08 245.36h4.4M102.28 243.16v4.4M100.08 243.16l4.4 4.4M100.08 247.56l4.4 -4.4M101.09 245.72h4.4M103.29 243.52v4.4M101.09 243.52l4.4 4.4M101.09 247.92l4.4 -4.4M102.11 248.35h4.4M104.31 246.15v4.4M102.11 246.15l4.4 4.4M102.11 250.55l4.4 -4.4M103.12 248.42h4.4M105.32 246.22v4.4M103.12 246.22l4.4 4.4M103.12 250.62l4.4 -4.4M104.13 250.82h4.4M106.33 248.62v4.4M104.13 248.62l4.4 4.4M104.13 253.02l4.4 -4.4M105.15 251.16h4.4M107.35 248.96v4.4M105.15 248.96l4.4 4.4M105.15 253.36l4.4 -4.4M106.16 252.37h4.4M108.36 250.17v4.4M106.16 250.17l4.4 4.4M106.16 254.57l4.4 -4.4M107.17 251.96h4.4M109.37 249.76v4.4M107.17 249.76l4.4 4.4M107.17 254.16l4.4 -4.4M108.18 252.65h4.4M110.38 250.45v4.4M108.18 250.45l4.4 4.4M108.18 254.85l4.4 -4.4M109.2 254.42h4.4M111.4 252.22v4.4M109.2 252.22l4.4 4.4M109.2 256.62l4.4 -4.4M110.21 254.6h4.4M112.41 252.4v4.4M110.21 252.4l4.4 4.4M110.21 256.8l4.4 -4.4M111.22 255.77h4.4M113.42 253.57v4.4M111.22 253.57l4.4 4.4M111.22 257.97l4.4 -4.4M112.24 256.09h4.4M114.44 253.89v4.4M112.24 253.89l4.4 4.4M112.24 258.29l4.4 -4.4M113.25 257.32h4.4M115.45 255.12v4.4M113.25 255.12l4.4 4.4M113.25 259.52l4.4 -4.4M114.26 258.35h4.4M116.46 256.15v4.4M114.26 256.15l4.4 4.4M114.26 260.55l4.4 -4.4M115.28 258.96h4.4M117.48 256.76v4.4M115.28 256.76l4.4 4.4M115.28 261.16l4.4 -4.4M116.29 258.53h4.4M118.49 256.33v4.4M116.29 256.33l4.4 4.4M116.29 260.73l4.4 -4.4M117.3 258.23h4.4M119.5 256.03v4.4M117.3 256.03l4.4 4.4M117.3 260.43l4.4 -4.4M118.31 259.63h4.4M120.52 257.43v4.4M118.31 257.43l4.4 4.4M118.31 261.83l4.4 -4.4M119.33 260.48h4.4M121.53 258.28v4.4M119.33 258.28l4.4 4.4M119.33 262.68l4.4 -4.4M120.34 259.9h4.4M122.54 257.7v4.4M120.34 257.7l4.4 4.4M120.34 262.1l4.4 -4.4M121.35 261.1h4.4M123.55 258.9v4.4M121.35 258.9l4.4 4.4M121.35 263.3l4.4 -4.4M122.37 261.61h4.4M124.57 259.41v4.4M122.37 259.41l4.4 4.4M122.37 263.81l4.4 -4.4M123.38 261.97h4.4M125.58 259.77v4.4M123.38 259.77l4.4 4.4M123.38 264.17l4.4 -4.4M124.39 262.54h4.4M126.59 260.34v4.4M124.39 260.34l4.4 4.4M124.39 264.74l4.4 -4.4M125.41 262.99h4.4M127.61 260.79v4.4M125.41 260.79l4.4 4.4M125.41 265.19l4.4 -4.4M126.42 263.82h4.4M128.62 261.62v4.4M126.42 261.62l4.4 4.4M126.42 266.02l4.4 -4.4M127.43 263.33h4.4M129.63 261.13v4.4M127.43 261.13l4.4 4.4M127.43 265.53l4.4 -4.4M128.44 263.89h4.4M130.64 261.69v4.4M128.44 261.69l4.4 4.4M128.44 266.09l4.4 -4.4M129.46 263.64h4.4M131.66 261.44v4.4M129.46 261.44l4.4 4.4M129.46 265.84l4.4 -4.4M130.47 264.57h4.4M132.67 262.37v4.4M130.47 262.37l4.4 4.4M130.47 266.77l4.4 -4.4M131.48 265.47h4.4M133.68 263.27v4.4M131.48 263.27l4.4 4.4M131.48 267.67l4.4 -4.4M132.5 264.97h4.4M134.7 262.77v4.4M132.5 262.77l4.4 4.4M132.5 267.17l4.4 -4.4M133.51 264.48h4.4M135.71 262.28v4.4M133.51 262.28l4.4 4.4M133.51 266.68l4.4 -4.4M134.52 265.56h4.4M136.72 263.36v4.4M134.52 263.36l4.4 4.4M134.52 267.76l4.4 -4.4M135.54 265.99h4.4M137.74 263.79v4.4M135.54 263.79l4.4 4.4M135.54 268.19l4.4 -4.4M136.55 266.32h4.4M138.75 264.12v4.4M136.55 264.12l4.4 4.4M136.55 268.52l4.4 -4.4M137.56 266.47h4.4M139.76 264.27v4.4M137.56 264.27l4.4 4.4M137.56 268.67l4.4 -4.4M138.57 266.36h4.4M140.77 264.16v4.4M138.57 264.16l4.4 4.4M138.57 268.56l4.4 -4.4M139.59 266.9h4.4M141.79 264.7v4.4M139.59 264.7l4.4 4.4M139.59 269.1l4.4 -4.4M140.6 266.01h4.4M142.8 263.81v4.4M140.6 263.81l4.4 4.4M140.6 268.21l4.4 -4.4M141.61 266.9h4.4M143.81 264.7v4.4M141.61 264.7l4.4 4.4M141.61 269.1l4.4 -4.4M142.63 266.91h4.4M144.83 264.71v4.4M142.63 264.71l4.4 4.4M142.63 269.11l4.4 -4.4M143.64 266.54h4.4M145.84 264.34v4.4M143.64 264.34l4.4 4.4M143.64 268.74l4.4 -4.4M144.65 266.67h4.4M146.85 264.47v4.4M144.65 264.47l4.4 4.4M144.65 268.87l4.4 -4.4M145.67 267.5h4.4M147.87 265.3v4.4M145.67 265.3l4.4 4.4M145.67 269.7l4.4 -4.4M146.68 267.43h4.4M148.88 265.23v4.4M146.68 265.23l4.4 4.4M146.68 269.63l4.4 -4.4M147.69 267.41h4.4M149.89 265.21v4.4M147.69 265.21l4.4 4.4M147.69 269.61l4.4 -4.4M148.7 267.91h4.4M150.9 265.71v4.4M148.7 265.71l4.4 4.4M148.7 270.11l4.4 -4.4M149.72 268.66h4.4M151.92 266.46v4.4M149.72 266.46l4.4 4.4M149.72 270.86l4.4 -4.4M150.73 267.83h4.4M152.93 265.63v4.4M150.73 265.63l4.4 4.4M150.73 270.03l4.4 -4.4M151.74 267.86h4.4M153.94 265.66v4.4M151.74 265.66l4.4 4.4M151.74 270.06l4.4 -4.4M152.76 268.17h4.4M154.96 265.97v4.4M152.76 265.97l4.4 4.4M152.76 270.37l4.4 -4.4M153.77 268.81h4.4M155.97 266.61v4.4M153.77 266.61l4.4 4.4M153.77 271.01l4.4 -4.4M154.78 268.64h4.4M156.98 266.44v4.4M154.78 266.44l4.4 4.4M154.78 270.84l4.4 -4.4M155.8 268.91h4.4M158 266.71v4.4M155.8 266.71l4.4 4.4M155.8 271.11l4.4 -4.4M156.81 268.91h4.4M159.01 266.71v4.4M156.81 266.71l4.4 4.4M156.81 271.11l4.4 -4.4M157.82 268.4h4.4M160.02 266.2v4.4M157.82 266.2l4.4 4.4M157.82 270.6l4.4 -4.4M158.84 268.43h4.4M161.03 266.23v4.4M158.84 266.23l4.4 4.4M158.84 270.63l4.4 -4.4M159.85 268.87h4.4M162.05 266.67v4.4M159.85 266.67l4.4 4.4M159.85 271.07l4.4 -4.4M160.86 269.03h4.4M163.06 266.83v4.4M160.86 266.83l4.4 4.4M160.86 271.23l4.4 -4.4M161.87 269.08h4.4M164.07 266.88v4.4M161.87 266.88l4.4 4.4M161.87 271.28l4.4 -4.4M162.89 269.46h4.4M165.09 267.26v4.4M162.89 267.26l4.4 4.4M162.89 271.66l4.4 -4.4M163.9 269.58h4.4M166.1 267.38v4.4M163.9 267.38l4.4 4.4M163.9 271.78l4.4 -4.4M164.91 269.91h4.4M167.11 267.71v4.4M164.91 267.71l4.4 4.4M164.91 272.11l4.4 -4.4M165.93 269.78h4.4M168.13 267.58v4.4M165.93 267.58l4.4 4.4M165.93 271.98l4.4 -4.4M166.94 268.99h4.4M169.14 266.79v4.4M166.94 266.79l4.4 4.4M166.94 271.19l4.4 -4.4M167.95 269.62h4.4M170.15 267.42v4.4M167.95 267.42l4.4 4.4M167.95 271.82l4.4 -4.4M168.97 270.17h4.4M171.16 267.97v4.4M168.97 267.97l4.4 4.4M168.97 272.37l4.4 -4.4M169.98 270.31h4.4M172.18 268.11v4.4M169.98 268.11l4.4 4.4M169.98 272.51l4.4 -4.4M170.99 270.54h4.4M173.19 268.34v4.4M170.99 268.34l4.4 4.4M170.99 272.74l4.4 -4.4M172 270.16h4.4M174.2 267.96v4.4M172 267.96l4.4 4.4M172 272.36l4.4 -4.4M173.02 270.23h4.4M175.22 268.03v4.4M173.02 268.03l4.4 4.4M173.02 272.43l4.4 -4.4M174.03 271h4.4M176.23 268.8v4.4M174.03 268.8l4.4 4.4M174.03 273.2l4.4 -4.4M175.04 270.35h4.4M177.24 268.15v4.4M175.04 268.15l4.4 4.4M175.04 272.55l4.4 -4.4M176.06 270.82h4.4M178.26 268.62v4.4M176.06 268.62l4.4 4.4M176.06 273.02l4.4 -4.4M177.07 270.14h4.4M179.27 267.94v4.4M177.07 267.94l4.4 4.4M177.07 272.34l4.4 -4.4M178.08 270.69h4.4M180.28 268.49v4.4M178.08 268.49l4.4 4.4M178.08 272.89l4.4 -4.4M179.09 270.17h4.4M181.29 267.97v4.4M179.09 267.97l4.4 4.4M179.09 272.37l4.4 -4.4M180.11 271.05h4.4M182.31 268.85v4.4M180.11 268.85l4.4 4.4M180.11 273.25l4.4 -4.4M181.12 271.05h4.4M183.32 268.85v4.4M181.12 268.85l4.4 4.4M181.12 273.25l4.4 -4.4M182.13 270.9h4.4M184.33 268.7v4.4M182.13 268.7l4.4 4.4M182.13 273.1l4.4 -4.4M183.15 270.68h4.4M185.35 268.48v4.4M183.15 268.48l4.4 4.4M183.15 272.88l4.4 -4.4M184.16 270.93h4.4M186.36 268.73v4.4M184.16 268.73l4.4 4.4M184.16 273.13l4.4 -4.4M185.17 271.67h4.4M187.37 269.47v4.4M185.17 269.47l4.4 4.4M185.17 273.87l4.4 -4.4M186.19 271.21h4.4M188.39 269.01v4.4M186.19 269.01l4.4 4.4M186.19 273.41l4.4 -4.4M187.2 271.33h4.4M189.4 269.13v4.4M187.2 269.13l4.4 4.4M187.2 273.53l4.4 -4.4M188.21 271.57h4.4M190.41 269.37v4.4M188.21 269.37l4.4 4.4M188.21 273.77l4.4 -4.4M189.23 271.72h4.4M191.43 269.52v4.4M189.23 269.52l4.4 4.4M189.23 273.92l4.4 -4.4M190.24 270.9h4.4M192.44 268.7v4.4M190.24 268.7l4.4 4.4M190.24 273.1l4.4 -4.4M191.25 271.76h4.4M193.45 269.56v4.4M191.25 269.56l4.4 4.4M191.25 273.96l4.4 -4.4M192.26 272h4.4M194.46 269.8v4.4M192.26 269.8l4.4 4.4M192.26 274.2l4.4 -4.4M193.28 271.52h4.4M195.48 269.32v4.4M193.28 269.32l4.4 4.4M193.28 273.72l4.4 -4.4M194.29 271.77h4.4M196.49 269.57v4.4M194.29 269.57l4.4 4.4M194.29 273.97l4.4 -4.4M195.3 271.92h4.4M197.5 269.72v4.4M195.3 269.72l4.4 4.4M195.3 274.12l4.4 -4.4M196.32 271.67h4.4M198.52 269.47v4.4M196.32 269.47l4.4 4.4M196.32 273.87l4.4 -4.4M197.33 271.84h4.4M199.53 269.64v4.4M197.33 269.64l4.4 4.4M197.33 274.04l4.4 -4.4M198.34 271.96h4.4M200.54 269.76v4.4M198.34 269.76l4.4 4.4M198.34 274.16l4.4 -4.4M199.36 271.8h4.4M201.56 269.6v4.4M199.36 269.6l4.4 4.4M199.36 274l4.4 -4.4M200.37 272.12h4.4M202.57 269.92v4.4M200.37 269.92l4.4 4.4M200.37 274.32l4.4 -4.4M201.38 272.51h4.4M203.58 270.31v4.4M201.38 270.31l4.4 4.4M201.38 274.71l4.4 -4.4M202.39 272.49h4.4M204.59 270.29v4.4M202.39 270.29l4.4 4.4M202.39 274.69l4.4 -4.4M203.41 272.61h4.4M205.61 270.41v4.4M203.41 270.41l4.4 4.4M203.41 274.81l4.4 -4.4M204.42 272.41h4.4M206.62 270.21v4.4M204.42 270.21l4.4 4.4M204.42 274.61l4.4 -4.4M205.43 272.94h4.4M207.63 270.74v4.4M205.43 270.74l4.4 4.4M205.43 275.14l4.4 -4.4M206.45 273.28h4.4M208.65 271.08v4.4M206.45 271.08l4.4 4.4M206.45 275.48l4.4 -4.4M207.46 272.65h4.4M209.66 270.45v4.4M207.46 270.45l4.4 4.4M207.46 274.85l4.4 -4.4M208.47 273.23h4.4M210.67 271.03v4.4M208.47 271.03l4.4 4.4M208.47 275.43l4.4 -4.4M209.49 273.51h4.4M211.69 271.31v4.4M209.49 271.31l4.4 4.4M209.49 275.71l4.4 -4.4M210.5 272.74h4.4M212.7 270.54v4.4M210.5 270.54l4.4 4.4M210.5 274.94l4.4 -4.4M211.51 273.19h4.4M213.71 270.99v4.4M211.51 270.99l4.4 4.4M211.51 275.39l4.4 -4.4M212.52 272.82h4.4M214.72 270.62v4.4M212.52 270.62l4.4 4.4M212.52 275.02l4.4 -4.4M213.54 273.26h4.4M215.74 271.06v4.4M213.54 271.06l4.4 4.4M213.54 275.46l4.4 -4.4M214.55 273.53h4.4M216.75 271.33v4.4M214.55 271.33l4.4 4.4M214.55 275.73l4.4 -4.4M215.56 273.64h4.4M217.76 271.44v4.4M215.56 271.44l4.4 4.4M215.56 275.84l4.4 -4.4M216.58 273.44h4.4M218.78 271.24v4.4M216.58 271.24l4.4 4.4M216.58 275.64l4.4 -4.4M217.59 273.42h4.4M219.79 271.22v4.4M217.59 271.22l4.4 4.4M217.59 275.62l4.4 -4.4M218.6 273.68h4.4M220.8 271.48v4.4M218.6 271.48l4.4 4.4M218.6 275.88l4.4 -4.4M219.62 273.54h4.4M221.81 271.34v4.4M219.62 271.34l4.4 4.4M219.62 275.74l4.4 -4.4M220.63 274.05h4.4M222.83 271.85v4.4M220.63 271.85l4.4 4.4M220.63 276.25l4.4 -4.4M221.64 273.56h4.4M223.84 271.36v4.4M221.64 271.36l4.4 4.4M221.64 275.76l4.4 -4.4M222.65 274.26h4.4M224.85 272.06v4.4M222.65 272.06l4.4 4.4M222.65 276.46l4.4 -4.4M223.67 273.74h4.4M225.87 271.54v4.4M223.67 271.54l4.4 4.4M223.67 275.94l4.4 -4.4M224.68 273.48h4.4M226.88 271.28v4.4M224.68 271.28l4.4 4.4M224.68 275.68l4.4 -4.4M225.69 273.4h4.4M227.89 271.2v4.4M225.69 271.2l4.4 4.4M225.69 275.6l4.4 -4.4M226.71 273.23h4.4M228.91 271.03v4.4M226.71 271.03l4.4 4.4M226.71 275.43l4.4 -4.4M227.72 274.44h4.4M229.92 272.24v4.4M227.72 272.24l4.4 4.4M227.72 276.64l4.4 -4.4M228.73 273.68h4.4M230.93 271.48v4.4M228.73 271.48l4.4 4.4M228.73 275.88l4.4 -4.4M229.75 273.57h4.4M231.94 271.37v4.4M229.75 271.37l4.4 4.4M229.75 275.77l4.4 -4.4M230.76 273.7h4.4M232.96 271.5v4.4M230.76 271.5l4.4 4.4M230.76 275.9l4.4 -4.4M231.77 274.43h4.4M233.97 272.23v4.4M231.77 272.23l4.4 4.4M231.77 276.63l4.4 -4.4M232.78 274.01h4.4M234.98 271.81v4.4M232.78 271.81l4.4 4.4M232.78 276.21l4.4 -4.4M233.8 273.55h4.4M236 271.35v4.4M233.8 271.35l4.4 4.4M233.8 275.75l4.4 -4.4M234.81 274.78h4.4M237.01 272.58v4.4M234.81 272.58l4.4 4.4M234.81 276.98l4.4 -4.4M235.82 274.13h4.4M238.02 271.93v4.4M235.82 271.93l4.4 4.4M235.82 276.33l4.4 -4.4M236.84 273.96h4.4M239.04 271.76v4.4M236.84 271.76l4.4 4.4M236.84 276.16l4.4 -4.4M237.85 274.64h4.4M240.05 272.44v4.4M237.85 272.44l4.4 4.4M237.85 276.84l4.4 -4.4M238.86 274.24h4.4M241.06 272.04v4.4M238.86 272.04l4.4 4.4M238.86 276.44l4.4 -4.4M239.88 274.87h4.4M242.07 272.67v4.4M239.88 272.67l4.4 4.4M239.88 277.07l4.4 -4.4M240.89 274.83h4.4M243.09 272.63v4.4M240.89 272.63l4.4 4.4M240.89 277.03l4.4 -4.4M241.9 274.87h4.4M244.1 272.67v4.4M241.9 272.67l4.4 4.4M241.9 277.07l4.4 -4.4M242.91 274.57h4.4M245.11 272.37v4.4M242.91 272.37l4.4 4.4M242.91 276.77l4.4 -4.4M243.93 274.71h4.4M246.13 272.51v4.4M243.93 272.51l4.4 4.4M243.93 276.91l4.4 -4.4M244.94 274.39h4.4M247.14 272.19v4.4M244.94 272.19l4.4 4.4M244.94 276.59l4.4 -4.4M245.95 275.1h4.4M248.15 272.9v4.4M245.95 272.9l4.4 4.4M245.95 277.3l4.4 -4.4M246.97 274.86h4.4M249.17 272.66v4.4M246.97 272.66l4.4 4.4M246.97 277.06l4.4 -4.4M247.98 274.53h4.4M250.18 272.33v4.4M247.98 272.33l4.4 4.4M247.98 276.73l4.4 -4.4M248.99 274.71h4.4M251.19 272.51v4.4M248.99 272.51l4.4 4.4M248.99 276.91l4.4 -4.4M250 275.4h4.4M252.2 273.2v4.4M250 273.2l4.4 4.4M250 277.6l4.4 -4.4M251.02 274.76h4.4M253.22 272.56v4.4M251.02 272.56l4.4 4.4M251.02 276.96l4.4 -4.4M252.03 275.2h4.4M254.23 273v4.4M252.03 273l4.4 4.4M252.03 277.4l4.4 -4.4M253.04 274.94h4.4M255.24 272.74v4.4M253.04 272.74l4.4 4.4M253.04 277.14l4.4 -4.4M254.06 275.01h4.4M256.26 272.81v4.4M254.06 272.81l4.4 4.4M254.06 277.21l4.4 -4.4M255.07 274.73h4.4M257.27 272.53v4.4M255.07 272.53l4.4 4.4M255.07 276.93l4.4 -4.4M256.08 275.15h4.4M258.28 272.95v4.4M256.08 272.95l4.4 4.4M256.08 277.35l4.4 -4.4M257.1 275.87h4.4M259.3 273.67v4.4M257.1 273.67l4.4 4.4M257.1 278.07l4.4 -4.4M258.11 275.74h4.4M260.31 273.54v4.4M258.11 273.54l4.4 4.4M258.11 277.94l4.4 -4.4M259.12 275.06h4.4M261.32 272.86v4.4M259.12 272.86l4.4 4.4M259.12 277.26l4.4 -4.4M260.13 275.44h4.4M262.33 273.24v4.4M260.13 273.24l4.4 4.4M260.13 277.64l4.4 -4.4M261.15 275h4.4M263.35 272.8v4.4M261.15 272.8l4.4 4.4M261.15 277.2l4.4 -4.4M262.16 275.33h4.4M264.36 273.13v4.4M262.16 273.13l4.4 4.4M262.16 277.53l4.4 -4.4M263.17 275.72h4.4M265.37 273.52v4.4M263.17 273.52l4.4 4.4M263.17 277.92l4.4 -4.4M264.19 275.13h4.4M266.39 272.93v4.4M264.19 272.93l4.4 4.4M264.19 277.33l4.4 -4.4M265.2 275.81h4.4M267.4 273.61v4.4M265.2 273.61l4.4 4.4M265.2 278.01l4.4 -4.4M266.21 276.27h4.4M268.41 274.07v4.4M266.21 274.07l4.4 4.4M266.21 278.47l4.4 -4.4M267.23 274.9h4.4M269.43 272.7v4.4M267.23 272.7l4.4 4.4M267.23 277.1l4.4 -4.4M268.24 276.3h4.4M270.44 274.1v4.4M268.24 274.1l4.4 4.4M268.24 278.5l4.4 -4.4M269.25 275.46h4.4M271.45 273.26v4.4M269.25 273.26l4.4 4.4M269.25 277.66l4.4 -4.4M270.26 275.39h4.4M272.46 273.19v4.4M270.26 273.19l4.4 4.4M270.26 277.59l4.4 -4.4M271.28 275.7h4.4M273.48 273.5v4.4M271.28 273.5l4.4 4.4M271.28 277.9l4.4 -4.4M272.29 276.35h4.4M274.49 274.15v4.4M272.29 274.15l4.4 4.4M272.29 278.55l4.4 -4.4M273.3 275.47h4.4M275.5 273.27v4.4M273.3 273.27l4.4 4.4M273.3 277.67l4.4 -4.4M274.32 276.34h4.4M276.52 274.14v4.4M274.32 274.14l4.4 4.4M274.32 278.54l4.4 -4.4M275.33 276.34h4.4M277.53 274.14v4.4M275.33 274.14l4.4 4.4M275.33 278.54l4.4 -4.4M276.34 276.04h4.4M278.54 273.84v4.4M276.34 273.84l4.4 4.4M276.34 278.24l4.4 -4.4M277.36 275.68h4.4M279.56 273.48v4.4M277.36 273.48l4.4 4.4M277.36 277.88l4.4 -4.4M278.37 275.88h4.4M280.57 273.68v4.4M278.37 273.68l4.4 4.4M278.37 278.08l4.4 -4.4M279.38 275.74h4.4M281.58 273.54v4.4M279.38 273.54l4.4 4.4M279.38 277.94l4.4 -4.4M280.39 276.19h4.4M282.59 273.99v4.4M280.39 273.99l4.4 4.4M280.39 278.39l4.4 -4.4M281.41 276.13h4.4M283.61 273.93v4.4M281.41 273.93l4.4 4.4M281.41 278.33l4.4 -4.4M282.42 276.49h4.4M284.62 274.29v4.4M282.42 274.29l4.4 4.4M282.42 278.69l4.4 -4.4M283.43 276.24h4.4M285.63 274.04v4.4M283.43 274.04l4.4 4.4M283.43 278.44l4.4 -4.4M284.45 275.96h4.4M286.65 273.76v4.4M284.45 273.76l4.4 4.4M284.45 278.16l4.4 -4.4M285.46 276.29h4.4M287.66 274.09v4.4M285.46 274.09l4.4 4.4M285.46 278.49l4.4 -4.4M286.47 276.06h4.4M288.67 273.86v4.4M286.47 273.86l4.4 4.4M286.47 278.26l4.4 -4.4M287.49 276.45h4.4M289.69 274.25v4.4M287.49 274.25l4.4 4.4M287.49 278.65l4.4 -4.4M288.5 276.48h4.4M290.7 274.28v4.4M288.5 274.28l4.4 4.4M288.5 278.68l4.4 -4.4M289.51 276.3h4.4M291.71 274.1v4.4M289.51 274.1l4.4 4.4M289.51 278.5l4.4 -4.4M290.52 276.4h4.4M292.72 274.2v4.4M290.52 274.2l4.4 4.4M290.52 278.6l4.4 -4.4M291.54 276.17h4.4M293.74 273.97v4.4M291.54 273.97l4.4 4.4M291.54 278.37l4.4 -4.4M292.55 276.34h4.4M294.75 274.14v4.4M292.55 274.14l4.4 4.4M292.55 278.54l4.4 -4.4M293.56 275.84h4.4M295.76 273.64v4.4M293.56 273.64l4.4 4.4M293.56 278.04l4.4 -4.4M294.58 276.53h4.4M296.78 274.33v4.4M294.58 274.33l4.4 4.4M294.58 278.73l4.4 -4.4M295.59 276.56h4.4M297.79 274.36v4.4M295.59 274.36l4.4 4.4M295.59 278.76l4.4 -4.4M296.6 276.85h4.4M298.8 274.65v4.4M296.6 274.65l4.4 4.4M296.6 279.05l4.4 -4.4M297.62 276.53h4.4M299.82 274.33v4.4M297.62 274.33l4.4 4.4M297.62 278.73l4.4 -4.4M298.63 276.33h4.4M300.83 274.13v4.4M298.63 274.13l4.4 4.4M298.63 278.53l4.4 -4.4M299.64 276.84h4.4M301.84 274.64v4.4M299.64 274.64l4.4 4.4M299.64 279.04l4.4 -4.4M300.66 276.63h4.4M302.86 274.43v4.4M300.66 274.43l4.4 4.4M300.66 278.83l4.4 -4.4M301.67 276.4h4.4M303.87 274.2v4.4M301.67 274.2l4.4 4.4M301.67 278.6l4.4 -4.4M302.68 276.71h4.4M304.88 274.51v4.4M302.68 274.51l4.4 4.4M302.68 278.91l4.4 -4.4M303.69 276.87h4.4M305.89 274.67v4.4M303.69 274.67l4.4 4.4M303.69 279.07l4.4 -4.4M304.71 276.39h4.4M306.91 274.19v4.4M304.71 274.19l4.4 4.4M304.71 278.59l4.4 -4.4M305.72 276.71h4.4M307.92 274.51v4.4M305.72 274.51l4.4 4.4M305.72 278.91l4.4 -4.4M306.73 276.64h4.4M308.93 274.44v4.4M306.73 274.44l4.4 4.4M306.73 278.84l4.4 -4.4M307.75 276.41h4.4M309.95 274.21v4.4M307.75 274.21l4.4 4.4M307.75 278.61l4.4 -4.4M308.76 276.44h4.4M310.96 274.24v4.4M308.76 274.24l4.4 4.4M308.76 278.64l4.4 -4.4M309.77 276.96h4.4M311.97 274.76v4.4M309.77 274.76l4.4 4.4M309.77 279.16l4.4 -4.4M310.79 277.04h4.4M312.99 274.84v4.4M310.79 274.84l4.4 4.4M310.79 279.24l4.4 -4.4M311.8 276.8h4.4M314 274.6v4.4M311.8 274.6l4.4 4.4M311.8 279l4.4 -4.4M312.81 276.96h4.4M315.01 274.76v4.4M312.81 274.76l4.4 4.4M312.81 279.16l4.4 -4.4M313.82 277.57h4.4M316.02 275.37v4.4M313.82 275.37l4.4 4.4M313.82 279.77l4.4 -4.4M314.84 276.54h4.4M317.04 274.34v4.4M314.84 274.34l4.4 4.4M314.84 278.74l4.4 -4.4M315.85 276.98h4.4M318.05 274.78v4.4M315.85 274.78l4.4 4.4M315.85 279.18l4.4 -4.4M316.86 276.77h4.4M319.06 274.57v4.4M316.86 274.57l4.4 4.4M316.86 278.97l4.4 -4.4M317.88 277.43h4.4M320.08 275.23v4.4M317.88 275.23l4.4 4.4M317.88 279.63l4.4 -4.4M318.89 276.64h4.4M321.09 274.44v4.4M318.89 274.44l4.4 4.4M318.89 278.84l4.4 -4.4M319.9 277.28h4.4M322.1 275.08v4.4M319.9 275.08l4.4 4.4M319.9 279.48l4.4 -4.4M320.92 277.14h4.4M323.12 274.94v4.4M320.92 274.94l4.4 4.4M320.92 279.34l4.4 -4.4M321.93 277.58h4.4M324.13 275.38v4.4M321.93 275.38l4.4 4.4M321.93 279.78l4.4 -4.4M322.94 277.2h4.4M325.14 275v4.4M322.94 275l4.4 4.4M322.94 279.4l4.4 -4.4M323.95 277.23h4.4M326.15 275.03v4.4M323.95 275.03l4.4 4.4M323.95 279.43l4.4 -4.4M324.97 277.24h4.4M327.17 275.04v4.4M324.97 275.04l4.4 4.4M324.97 279.44l4.4 -4.4M325.98 277.05h4.4M328.18 274.85v4.4M325.98 274.85l4.4 4.4M325.98 279.25l4.4 -4.4M326.99 277.19h4.4M329.19 274.99v4.4M326.99 274.99l4.4 4.4M326.99 279.39l4.4 -4.4M328.01 276.91h4.4M330.21 274.71v4.4M328.01 274.71l4.4 4.4M328.01 279.11l4.4 -4.4M329.02 277.4h4.4M331.22 275.2v4.4M329.02 275.2l4.4 4.4M329.02 279.6l4.4 -4.4M330.03 277.6h4.4M332.23 275.4v4.4M330.03 275.4l4.4 4.4M330.03 279.8l4.4 -4.4M331.05 277.3h4.4M333.25 275.1v4.4M331.05 275.1l4.4 4.4M331.05 279.5l4.4 -4.4M332.06 277.1h4.4M334.26 274.9v4.4M332.06 274.9l4.4 4.4M332.06 279.3l4.4 -4.4M333.07 276.92h4.4M335.27 274.72v4.4M333.07 274.72l4.4 4.4M333.07 279.12l4.4 -4.4M334.08 277.09h4.4M336.28 274.89v4.4M334.08 274.89l4.4 4.4M334.08 279.29l4.4 -4.4M335.1 277.96h4.4M337.3 275.76v4.4M335.1 275.76l4.4 4.4M335.1 280.16l4.4 -4.4M336.11 277.29h4.4M338.31 275.09v4.4M336.11 275.09l4.4 4.4M336.11 279.49l4.4 -4.4M337.12 276.96h4.4M339.32 274.76v4.4M337.12 274.76l4.4 4.4M337.12 279.16l4.4 -4.4M338.14 277.45h4.4M340.34 275.25v4.4M338.14 275.25l4.4 4.4M338.14 279.65l4.4 -4.4M339.15 277.67h4.4M341.35 275.47v4.4M339.15 275.47l4.4 4.4M339.15 279.87l4.4 -4.4M340.16 277.44h4.4M342.36 275.24v4.4M340.16 275.24l4.4 4.4M340.16 279.64l4.4 -4.4M341.18 277.75h4.4M343.38 275.55v4.4M341.18 275.55l4.4 4.4M341.18 279.95l4.4 -4.4M342.19 277.42h4.4M344.39 275.22v4.4M342.19 275.22l4.4 4.4M342.19 279.62l4.4 -4.4M343.2 277.68h4.4M345.4 275.48v4.4M343.2 275.48l4.4 4.4M343.2 279.88l4.4 -4.4M344.21 277.28h4.4M346.41 275.08v4.4M344.21 275.08l4.4 4.4M344.21 279.48l4.4 -4.4M345.23 277.62h4.4M347.43 275.42v4.4M345.23 275.42l4.4 4.4M345.23 279.82l4.4 -4.4M346.24 278.08h4.4M348.44 275.88v4.4M346.24 275.88l4.4 4.4M346.24 280.28l4.4 -4.4M347.25 277.71h4.4M349.45 275.51v4.4M347.25 275.51l4.4 4.4M347.25 279.91l4.4 -4.4M348.27 277.66h4.4M350.47 275.46v4.4M348.27 275.46l4.4 4.4M348.27 279.86l4.4 -4.4M349.28 278.22h4.4M351.48 276.02v4.4M349.28 276.02l4.4 4.4M349.28 280.42l4.4 -4.4M350.29 278.24h4.4M352.49 276.04v4.4M350.29 276.04l4.4 4.4M350.29 280.44l4.4 -4.4M351.31 278.91h4.4M353.5 276.71v4.4M351.31 276.71l4.4 4.4M351.31 281.11l4.4 -4.4M352.32 277.95h4.4M354.52 275.75v4.4M352.32 275.75l4.4 4.4M352.32 280.15l4.4 -4.4M353.33 278.51h4.4M355.53 276.31v4.4M353.33 276.31l4.4 4.4M353.33 280.71l4.4 -4.4M354.34 279.08h4.4M356.54 276.88v4.4M354.34 276.88l4.4 4.4M354.34 281.28l4.4 -4.4M355.36 279.04h4.4M357.56 276.84v4.4M355.36 276.84l4.4 4.4M355.36 281.24l4.4 -4.4M356.37 278.63h4.4M358.57 276.43v4.4M356.37 276.43l4.4 4.4M356.37 280.83l4.4 -4.4M357.38 278.4h4.4M359.58 276.2v4.4M357.38 276.2l4.4 4.4M357.38 280.6l4.4 -4.4M358.4 278.76h4.4M360.6 276.56v4.4M358.4 276.56l4.4 4.4M358.4 280.96l4.4 -4.4M359.41 278.67h4.4M361.61 276.47v4.4M359.41 276.47l4.4 4.4M359.41 280.87l4.4 -4.4M360.42 279.25h4.4M362.62 277.05v4.4M360.42 277.05l4.4 4.4M360.42 281.45l4.4 -4.4M361.44 279.42h4.4M363.64 277.22v4.4M361.44 277.22l4.4 4.4M361.44 281.62l4.4 -4.4M362.45 278.81h4.4M364.65 276.61v4.4M362.45 276.61l4.4 4.4M362.45 281.01l4.4 -4.4M363.46 279.03h4.4M365.66 276.83v4.4M363.46 276.83l4.4 4.4M363.46 281.23l4.4 -4.4M364.47 279.29h4.4M366.67 277.09v4.4M364.47 277.09l4.4 4.4M364.47 281.49l4.4 -4.4M365.49 278.98h4.4M367.69 276.78v4.4M365.49 276.78l4.4 4.4M365.49 281.18l4.4 -4.4M366.5 279.79h4.4M368.7 277.59v4.4M366.5 277.59l4.4 4.4M366.5 281.99l4.4 -4.4M367.51 279.74h4.4M369.71 277.54v4.4M367.51 277.54l4.4 4.4M367.51 281.94l4.4 -4.4M368.53 279.41h4.4M370.73 277.21v4.4M368.53 277.21l4.4 4.4M368.53 281.61l4.4 -4.4M369.54 279.29h4.4M371.74 277.09v4.4M369.54 277.09l4.4 4.4M369.54 281.49l4.4 -4.4M370.55 279.99h4.4M372.75 277.79v4.4M370.55 277.79l4.4 4.4M370.55 282.19l4.4 -4.4M371.56 279.62h4.4M373.76 277.42v4.4M371.56 277.42l4.4 4.4M371.56 281.82l4.4 -4.4M372.58 280.46h4.4M374.78 278.26v4.4M372.58 278.26l4.4 4.4M372.58 282.66l4.4 -4.4M373.59 280.33h4.4M375.79 278.13v4.4M373.59 278.13l4.4 4.4M373.59 282.53l4.4 -4.4M374.6 280.64h4.4M376.8 278.44v4.4M374.6 278.44l4.4 4.4M374.6 282.84l4.4 -4.4M375.62 281.22h4.4M377.82 279.02v4.4M375.62 279.02l4.4 4.4M375.62 283.42l4.4 -4.4M376.63 280.83h4.4M378.83 278.63v4.4M376.63 278.63l4.4 4.4M376.63 283.03l4.4 -4.4M377.64 280.8h4.4M379.84 278.6v4.4M377.64 278.6l4.4 4.4M377.64 283l4.4 -4.4M378.66 281.3h4.4M380.86 279.1v4.4M378.66 279.1l4.4 4.4M378.66 283.5l4.4 -4.4M379.67 281.45h4.4M381.87 279.25v4.4M379.67 279.25l4.4 4.4M379.67 283.65l4.4 -4.4M380.68 281.2h4.4M382.88 279v4.4M380.68 279l4.4 4.4M380.68 283.4l4.4 -4.4M381.69 282.17h4.4M383.89 279.97v4.4M381.69 279.97l4.4 4.4M381.69 284.37l4.4 -4.4M382.71 282.43h4.4M384.91 280.23v4.4M382.71 280.23l4.4 4.4M382.71 284.63l4.4 -4.4M383.72 282.38h4.4M385.92 280.18v4.4M383.72 280.18l4.4 4.4M383.72 284.58l4.4 -4.4M384.73 282.73h4.4M386.93 280.53v4.4M384.73 280.53l4.4 4.4M384.73 284.93l4.4 -4.4M385.75 282.21h4.4M387.95 280.01v4.4M385.75 280.01l4.4 4.4M385.75 284.41l4.4 -4.4M386.76 282.71h4.4M388.96 280.51v4.4M386.76 280.51l4.4 4.4M386.76 284.91l4.4 -4.4M387.77 283.25h4.4M389.97 281.05v4.4M387.77 281.05l4.4 4.4M387.77 285.45l4.4 -4.4M388.79 283.39h4.4M390.99 281.19v4.4M388.79 281.19l4.4 4.4M388.79 285.59l4.4 -4.4M389.8 282.64h4.4M392 280.44v4.4M389.8 280.44l4.4 4.4M389.8 284.84l4.4 -4.4M390.81 283.84h4.4M393.01 281.64v4.4M390.81 281.64l4.4 4.4M390.81 286.04l4.4 -4.4M391.82 284.14h4.4M394.02 281.94v4.4M391.82 281.94l4.4 4.4M391.82 286.34l4.4 -4.4M392.84 284.13h4.4M395.04 281.93v4.4M392.84 281.93l4.4 4.4M392.84 286.33l4.4 -4.4M393.85 284.33h4.4M396.05 282.13v4.4M393.85 282.13l4.4 4.4M393.85 286.53l4.4 -4.4M394.86 284.76h4.4M397.06 282.56v4.4M394.86 282.56l4.4 4.4M394.86 286.96l4.4 -4.4M395.88 285.37h4.4M398.08 283.17v4.4M395.88 283.17l4.4 4.4M395.88 287.57l4.4 -4.4M396.89 285.76h4.4M399.09 283.56v4.4M396.89 283.56l4.4 4.4M396.89 287.96l4.4 -4.4M397.9 285.64h4.4M400.1 283.44v4.4M397.9 283.44l4.4 4.4M397.9 287.84l4.4 -4.4M398.92 286.14h4.4M401.12 283.94v4.4M398.92 283.94l4.4 4.4M398.92 288.34l4.4 -4.4M399.93 286.87h4.4M402.13 284.67v4.4M399.93 284.67l4.4 4.4M399.93 289.07l4.4 -4.4M400.94 286.5h4.4M403.14 284.3v4.4M400.94 284.3l4.4 4.4M400.94 288.7l4.4 -4.4M401.96 286.92h4.4M404.16 284.72v4.4M401.96 284.72l4.4 4.4M401.96 289.12l4.4 -4.4M402.97 287.48h4.4M405.17 285.28v4.4M402.97 285.28l4.4 4.4M402.97 289.68l4.4 -4.4M403.98 287.8h4.4M406.18 285.6v4.4M403.98 285.6l4.4 4.4M403.98 290l4.4 -4.4M404.99 288.01h4.4M407.19 285.81v4.4M404.99 285.81l4.4 4.4M404.99 290.21l4.4 -4.4M406.01 288.54h4.4M408.21 286.34v4.4M406.01 286.34l4.4 4.4M406.01 290.74l4.4 -4.4M407.02 289.01h4.4M409.22 286.81v4.4M407.02 286.81l4.4 4.4M407.02 291.21l4.4 -4.4M408.03 288.96h4.4M410.23 286.76v4.4M408.03 286.76l4.4 4.4M408.03 291.16l4.4 -4.4M409.05 289.67h4.4M411.25 287.47v4.4M409.05 287.47l4.4 4.4M409.05 291.87l4.4 -4.4M410.06 289.6h4.4M412.26 287.4v4.4M410.06 287.4l4.4 4.4M410.06 291.8l4.4 -4.4M411.07 290.31h4.4M413.27 288.11v4.4M411.07 288.11l4.4 4.4M411.07 292.51l4.4 -4.4M412.09 290.34h4.4M414.29 288.14v4.4M412.09 288.14l4.4 4.4M412.09 292.54l4.4 -4.4M413.1 290.67h4.4M415.3 288.47v4.4M413.1 288.47l4.4 4.4M413.1 292.87l4.4 -4.4M414.11 290.57h4.4M416.31 288.37v4.4M414.11 288.37l4.4 4.4M414.11 292.77l4.4 -4.4M415.12 291.47h4.4M417.32 289.27v4.4M415.12 289.27l4.4 4.4M415.12 293.67l4.4 -4.4M416.14 291.84h4.4M418.34 289.64v4.4M416.14 289.64l4.4 4.4M416.14 294.04l4.4 -4.4M417.15 291.98h4.4M419.35 289.78v4.4M417.15 289.78l4.4 4.4M417.15 294.18l4.4 -4.4M418.16 292.37h4.4M420.36 290.17v4.4M418.16 290.17l4.4 4.4M418.16 294.57l4.4 -4.4M419.18 292.55h4.4M421.38 290.35v4.4M419.18 290.35l4.4 4.4M419.18 294.75l4.4 -4.4M420.19 292.62h4.4M422.39 290.42v4.4M420.19 290.42l4.4 4.4M420.19 294.82l4.4 -4.4M421.2 292.83h4.4M423.4 290.63v4.4M421.2 290.63l4.4 4.4M421.2 295.03l4.4 -4.4M422.21 292.93h4.4M424.41 290.73v4.4M422.21 290.73l4.4 4.4M422.21 295.13l4.4 -4.4M423.23 293.7h4.4M425.43 291.5v4.4M423.23 291.5l4.4 4.4M423.23 295.9l4.4 -4.4M424.24 293.27h4.4M426.44 291.07v4.4M424.24 291.07l4.4 4.4M424.24 295.47l4.4 -4.4M425.25 293.68h4.4M427.45 291.48v4.4M425.25 291.48l4.4 4.4M425.25 295.88l4.4 -4.4M426.27 294.4h4.4M428.47 292.2v4.4M426.27 292.2l4.4 4.4M426.27 296.6l4.4 -4.4M427.28 295.09h4.4M429.48 292.89v4.4M427.28 292.89l4.4 4.4M427.28 297.29l4.4 -4.4M428.29 294.88h4.4M430.49 292.68v4.4M428.29 292.68l4.4 4.4M428.29 297.08l4.4 -4.4M429.31 295.1h4.4M431.51 292.9v4.4M429.31 292.9l4.4 4.4M429.31 297.3l4.4 -4.4M430.32 295.85h4.4M432.52 293.65v4.4M430.32 293.65l4.4 4.4M430.32 298.05l4.4 -4.4M431.33 295.61h4.4M433.53 293.41v4.4M431.33 293.41l4.4 4.4M431.33 297.81l4.4 -4.4M432.35 295.92h4.4M434.55 293.72v4.4M432.35 293.72l4.4 4.4M432.35 298.12l4.4 -4.4M433.36 296.3h4.4M435.56 294.1v4.4M433.36 294.1l4.4 4.4M433.36 298.5l4.4 -4.4M434.37 296.25h4.4M436.57 294.05v4.4M434.37 294.05l4.4 4.4M434.37 298.45l4.4 -4.4M435.38 296.41h4.4M437.58 294.21v4.4M435.38 294.21l4.4 4.4M435.38 298.61l4.4 -4.4M436.4 296.96h4.4M438.6 294.76v4.4M436.4 294.76l4.4 4.4M436.4 299.16l4.4 -4.4M437.41 297.03h4.4M439.61 294.83v4.4M437.41 294.83l4.4 4.4M437.41 299.23l4.4 -4.4M438.42 297.43h4.4M440.62 295.23v4.4M438.42 295.23l4.4 4.4M438.42 299.63l4.4 -4.4M439.44 297.65h4.4M441.64 295.45v4.4M439.44 295.45l4.4 4.4M439.44 299.85l4.4 -4.4M440.45 297.65h4.4M442.65 295.45v4.4M440.45 295.45l4.4 4.4M440.45 299.85l4.4 -4.4M441.46 297.71h4.4M443.66 295.51v4.4M441.46 295.51l4.4 4.4M441.46 299.91l4.4 -4.4M442.48 298.08h4.4M444.68 295.88v4.4M442.48 295.88l4.4 4.4M442.48 300.28l4.4 -4.4M443.49 298.55h4.4M445.69 296.35v4.4M443.49 296.35l4.4 4.4M443.49 300.75l4.4 -4.4M444.5 298.08h4.4M446.7 295.88v4.4M444.5 295.88l4.4 4.4M444.5 300.28l4.4 -4.4M445.51 298.64h4.4M447.71 296.44v4.4M445.51 296.44l4.4 4.4M445.51 300.84l4.4 -4.4M446.53 298.37h4.4M448.73 296.17v4.4M446.53 296.17l4.4 4.4M446.53 300.57l4.4 -4.4M447.54 298.1h4.4M449.74 295.9v4.4M447.54 295.9l4.4 4.4M447.54 300.3l4.4 -4.4" stroke="#00f" stroke-width="0.6"/>
<path d="M405.9 32.4 H449.8" stroke="#f00" stroke-width="0.6" stroke-opacity="1"/>
<path d="M425.5 32.4h4.4M427.7 30.2v4.4" stroke="#f00" stroke-width="0.6"/>
<path d="M405.9 49 H449.8" stroke="#0f0" stroke-width="1.1" stroke-opacity="0.55" stroke-dasharray="2.6 1.4"/>
<path d="M425.5 46.8l4.4 4.4M425.5 51.2l4.4 -4.4" stroke="#0f0" stroke-width="0.6"/>
<path d="M405.9 65.5 H449.8" stroke="#00f" stroke-width="0.8" stroke-opacity="0.75" stroke-dasharray="1.3 2.15"/>
<path d="M425.5 65.5h4.4M427.7 63.3v4.4M425.5 63.3l4.4 4.4M425.5 67.7l4.4 -4.4" stroke="#00f" stroke-width="0.6"/>
</g>
<g stroke="#000" fill="none">
<path d="M64.8 19.5 H470 V298.75" stroke-width="1.1" stroke="#2e2e2e"/>
<path d="M63.3 298.75 H470.5" stroke-width="1.7" stroke="#1c1c1c"/>
<path d="M64.8 299.45 V30" stroke-width="3.3"/>
<path d="M105.32 298.75v-4.6M105.32 19.5v4.5M145.84 298.75v-4.6M145.84 19.5v4.5M186.36 298.75v-4.6M186.36 19.5v4.5M226.88 298.75v-4.6M226.88 19.5v4.5M267.4 298.75v-4.6M267.4 19.5v4.5M307.92 298.75v-4.6M307.92 19.5v4.5M348.44 298.75v-4.6M348.44 19.5v4.5M388.96 298.75v-4.6M388.96 19.5v4.5M429.48 298.75v-4.6M429.48 19.5v4.5M64.8 263.84h4.2M470 263.84h-4.5M64.8 228.94h4.2M470 228.94h-4.5M64.8 194.03h4.2M470 194.03h-4.5M64.8 159.12h4.2M470 159.12h-4.5M64.8 124.22h4.2M470 124.22h-4.5M64.8 89.31h4.2M470 89.31h-4.5M64.8 54.41h4.2M470 54.41h-4.5" stroke-width="1" stroke="#222"/>
</g>
<path d="M64.7 17.9 L69 32.8 H60.7 Z" fill="#000"/>
<g font-family="'Liberation Serif', serif" font-weight="bold" font-style="italic" font-size="16.8" fill="#000" stroke="#000" stroke-width="0.22" style="opacity:.999">
<text transform="translate(54.6 304.45) scale(1 1.05)" text-anchor="end">0</text>
<text transform="translate(54.6 269.54) scale(1 1.05)" text-anchor="end">1</text>
<text transform="translate(54.6 234.64) scale(1 1.05)" text-anchor="end">2</text>
<text transform="translate(54.6 199.73) scale(1 1.05)" text-anchor="end">3</text>
<text transform="translate(54.6 164.82) scale(1 1.05)" text-anchor="end">4</text>
<text transform="translate(54.6 129.92) scale(1 1.05)" text-anchor="end">5</text>
<text transform="translate(54.6 95.01) scale(1 1.05)" text-anchor="end">6</text>
<text transform="translate(54.6 60.11) scale(1 1.05)" text-anchor="end">7</text>
<text transform="translate(54.6 25.7) scale(1 1.05)" text-anchor="end">8</text>
<text transform="translate(66.4 321.7) scale(1 1.05)" text-anchor="middle">0</text>
<text transform="translate(106.92 321.7) scale(1 1.05)" text-anchor="middle">0.1</text>
<text transform="translate(147.44 321.7) scale(1 1.05)" text-anchor="middle">0.2</text>
<text transform="translate(187.96 321.7) scale(1 1.05)" text-anchor="middle">0.3</text>
<text transform="translate(228.48 321.7) scale(1 1.05)" text-anchor="middle">0.4</text>
<text transform="translate(269 321.7) scale(1 1.05)" text-anchor="middle">0.5</text>
<text transform="translate(309.52 321.7) scale(1 1.05)" text-anchor="middle">0.6</text>
<text transform="translate(350.04 321.7) scale(1 1.05)" text-anchor="middle">0.7</text>
<text transform="translate(390.56 321.7) scale(1 1.05)" text-anchor="middle">0.8</text>
<text transform="translate(431.08 321.7) scale(1 1.05)" text-anchor="middle">0.9</text>
<text transform="translate(471.6 321.7) scale(1 1.05)" text-anchor="middle">1</text>
<text transform="translate(267 345.7) scale(1 1.05)" text-anchor="middle">core / N</text>
<text transform="translate(22.3 159) rotate(-90) scale(1 1.05)" text-anchor="middle">P ( core / N )</text>
<text transform="translate(175.6 37.6) scale(1 1.05)" text-anchor="start">N = 100 M = 95&#160;&#160; x = 0</text>
<text transform="translate(175.6 53.9) scale(1 1.05)" text-anchor="start">N = 200 M = 190 x = 0</text>
<text transform="translate(175.6 70.1) scale(1 1.05)" text-anchor="start">N = 400 M = 380 x = 0</text>
</g>
</svg>
</body></html>
